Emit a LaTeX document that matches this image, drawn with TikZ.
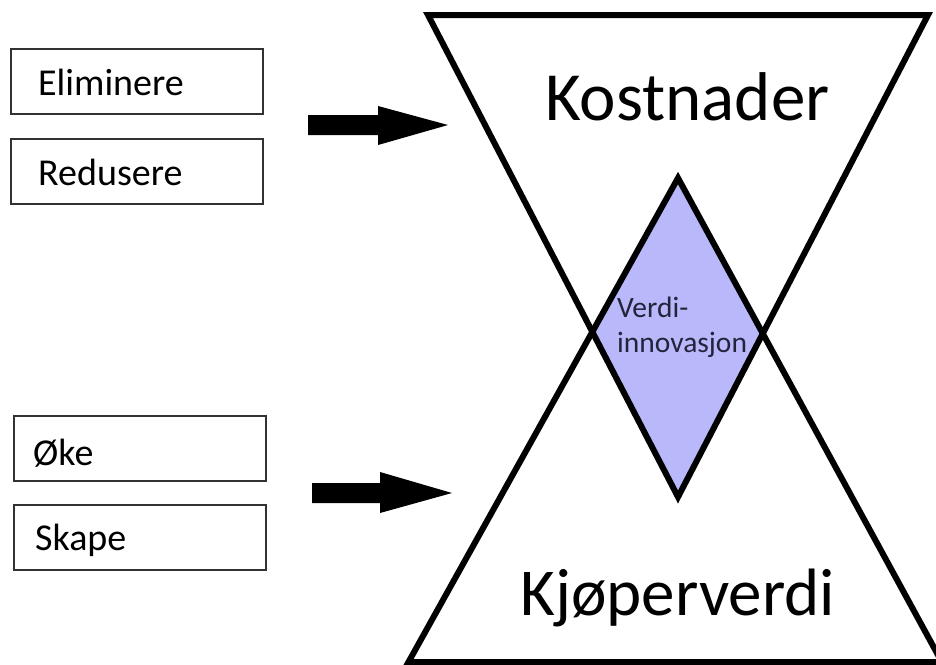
\documentclass[tikz,border=0pt]{standalone}
\usepackage{fontspec}
\setmainfont{Carlito}
\definecolor{lav}{RGB}{184,184,250}
\definecolor{boxline}{RGB}{50,50,50}
\definecolor{vtext}{RGB}{35,35,60}
\begin{document}
\begin{tikzpicture}[x=1pt,y=-1pt,
  edge/.style={line width=6pt, line join=miter},
  lbox/.style={draw=boxline, line width=1.5pt, minimum width=252pt, minimum height=65pt, anchor=north west, inner sep=0pt},
  ltext/.style={anchor=base west, inner sep=0pt, font=\fontsize{38}{42}\selectfont},
  bigtext/.style={anchor=base west, inner sep=0pt, font=\fontsize{67}{75}\selectfont},
  vstyle/.style={anchor=base west, inner sep=0pt, text=vtext, font=\fontsize{29.5}{35}\selectfont},
  arrowfill/.style={fill=black}]
\useasboundingbox (0,0) rectangle (936,664);
% triangle corners
\coordinate (tl) at (428,15);
\coordinate (tr) at (928,15);
\coordinate (tapex) at (678,497);
\coordinate (bl) at (408.5,662);
\coordinate (br) at (941.8,662);
\coordinate (bapex) at (678,178);
\coordinate (dl) at (intersection of tl--tapex and bl--bapex);
\coordinate (dr) at (intersection of tr--tapex and br--bapex);
% diamond
\fill[lav] (bapex) -- (dl) -- (tapex) -- (dr) -- cycle;
% triangles
\draw[edge] (tl) -- (tr) -- (tapex) -- cycle;
\draw[edge] (bl) -- (br) -- (bapex) -- cycle;
% texts in triangles
\node[bigtext, font=\fontsize{69}{75}\selectfont] (kost) at (545,120) {Kostnader};
\node[bigtext] (kjop) at (520,615) {Kjøperverdi};
\node[vstyle] (verdi) at (617,317) {Verdi-};
\node[vstyle] (innov) at (617,352) {innovasjon};
% left boxes
\node[lbox] (b1) at (10,48) {};
\node[lbox] (b2) at (10,138) {};
\node[lbox] (b3) at (13,415) {};
\node[lbox] (b4) at (13,504) {};
\node[ltext] (t1) at (38,95) {Eliminere};
\node[ltext] (t2) at (38,185) {Redusere};
\node[ltext] (t3) at (33,465) {Øke};
\node[ltext] (t4) at (35,550) {Skape};
% block arrows
\fill[arrowfill] (308,115) -- (378,115) -- (378,106) -- (448,125) -- (378,145) -- (378,135) -- (308,135) -- cycle;
\fill[arrowfill] (312,483) -- (380,483) -- (380,472) -- (452,493) -- (380,513) -- (380,503) -- (312,503) -- cycle;
\end{tikzpicture}
\end{document}
